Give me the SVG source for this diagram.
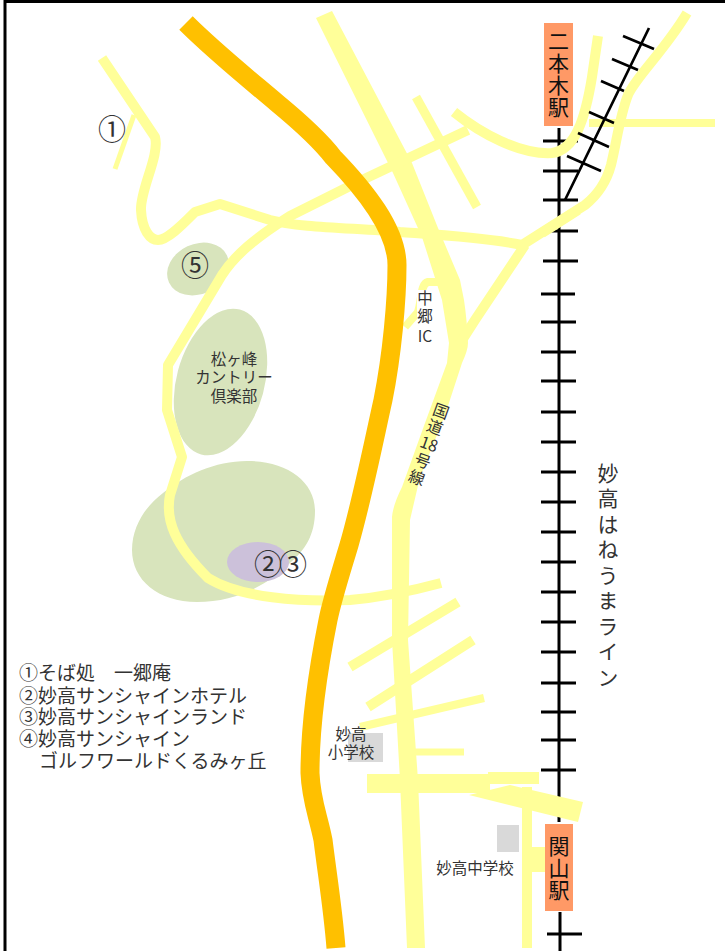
<svg xmlns="http://www.w3.org/2000/svg" width="725" height="951" viewBox="0 0 725 951">
<style>
text{font-family:"Noto Sans CJK JP","Noto Sans",sans-serif;fill:#333}
.area{fill:#D8E4BC}
.road{fill:none;stroke:#FFFF99;stroke-linejoin:round}
.fill{fill:#FFFF99}
.rail{fill:none;stroke:#000;stroke-width:3}
.sta{fill:#FF9966}
.school{fill:#D9D9D9}
.v{writing-mode:vertical-rl;text-anchor:middle}
.num{font-size:28px;text-anchor:middle}
.lg{font-size:19px}
.sm{font-size:15.5px;text-anchor:middle}
</style>
<rect width="725" height="951" fill="#fff"/>
<path d="M5 951V1.500H725" fill="none" stroke="#000" stroke-width="3"/>
<g id="areas">
<ellipse class="area" cx="198" cy="269" rx="32" ry="25" transform="rotate(-25 198 269)"/>
<ellipse class="area" cx="220.500" cy="382" rx="44" ry="75" transform="rotate(15 220.500 382)"/>
<path class="area" d="M247 461C285 461 315 480 315 511C315 535 305 550 290 563C268 585 235 602 197 602C158 602 132 580 132 550C132 525 147 505 163 493C185 475 215 461 247 461Z"/>
<ellipse class="area" style="fill:#CCC1DA" cx="258" cy="562" rx="31" ry="20"/>
</g>
<g id="connectors">
<path class="rail" d="M559 128V822M543 141H578M543 171H578M543 200H578M543 231H578M543 261H578M541 294H575M541 322H576M541 352H576M541 381H576M541 412H576M541 442H576M541 472H576M541 502H576M541 532H576M541 562H576M541 592H576M541 622H576M541 652H576M541 683H576M541 712H576M541 740H576M541 770H576M560 912V951M547 934H582"/>
<path class="fill" d="M316 18L393 173L422 237L442 300L449 343L447 363L425 423L402 487Q393 505 392 517L392 640L400 780L407 948H425L418 780L408 640L410 520L420 477L445 415L462 363Q468 350 468 343Q467 320 464 300L460 280L438 228L412 163L332 11Z"/>
<g class="road">
<path stroke-width="10" d="M102 58L155 137C160 155 140 190 141 210C142 230 150 240 158 240C168 240 185 222 195 212L220 204L270 220C300 228 360 228 400 232C440 235 490 238 522 245L585 205C600 193 607 180 611 165C617 140 620 115 628 95C635 78 665 50 687 13"/>
<path stroke-width="5" d="M134 115L115 169"/>
<path stroke-width="10" d="M468 130L360 181L290 216C255 238 235 255 222 275L168 365L167 410L182 457L170 495C165 520 175 545 208 578C240 598 300 602 350 600C385 597 415 590 441 583"/>
<path stroke-width="9" d="M416 97L477 207"/>
<path stroke-width="10" d="M454 112C480 133 520 155 552 153C575 150 585 120 592 77L598 36"/>
<path stroke-width="8" d="M589 123H715"/>
<path stroke-width="10" d="M525 245L475 320L459 345"/>
<path stroke-width="8" d="M440 282H428C420 284 422 300 418 312L405 327"/>
<path stroke-width="10" d="M350 667L458 602M368 707L473 640"/>
<path stroke-width="8" d="M360 727L484 698"/>
<path stroke-width="7" d="M415 752H464"/>
</g>
<rect x="417" y="290" width="18" height="55" fill="#fff"/>
<path class="rail" d="M565 200L649 28M623 36L654 49M612 59L638 70M601 81L624 91M589 112L614 123M578 133L609 147M567 156L601 171" style="stroke-width:2.700"/>
<path class="road" stroke-width="10" d="M542 233L578 210"/>
<rect class="fill" x="367" y="774" width="123" height="19"/>
<rect class="fill" x="488" y="772" width="51" height="12"/>
<path class="fill" d="M510 785L583 802L578 822L469 795Z"/>
<rect class="fill" x="522" y="787" width="10" height="161"/>
<rect class="fill" x="532" y="847" width="15" height="25"/>
<path fill="none" stroke="#FFC000" stroke-width="19" d="M186 23C215 52 250 80 277 103C300 122 320 140 333 157C365 190 397 230 397 265C397 300 392 355 383 400C373 445 362 500 349 545C340 575 332 600 328 620C318 670 310 720 310 773C311 800 318 815 323 840C328 880 333 910 336 948"/>
</g>
<g id="legend">
<text class="lg" x="19" y="680">①そば処　一郷庵</text>
<text class="lg" x="19" y="703">②妙高サンシャインホテル</text>
<text class="lg" x="19" y="724">③妙高サンシャインランド</text>
<text class="lg" x="19" y="746">④妙高サンシャイン</text>
<text class="lg" x="39" y="768">ゴルフワールドくるみヶ丘</text>
</g>
<g id="marker-1"><text class="num" x="112" y="140">①</text></g>
<g id="marker-5"><text class="num" x="195" y="276">⑤</text></g>
<g id="marker-23"><text class="num" x="268" y="575">②</text><text class="num" x="293" y="575">③</text></g>
<g id="matsugamine">
<text class="sm" x="234" y="365">松ヶ峰</text>
<text class="sm" x="234" y="383">カントリー</text>
<text class="sm" x="234" y="402">倶楽部</text>
</g>
<g id="nakago-ic">
<text class="sm" x="425" y="304">中</text>
<text class="sm" x="425" y="322">郷</text>
<text class="sm" x="425" y="342">IC</text>
</g>
<g id="route18" transform="translate(441 411) rotate(20)">
<text class="sm" style="font-size:16px"><tspan x="0" y="6">国</tspan><tspan x="0" y="23">道</tspan><tspan x="0" y="41">18</tspan><tspan x="0" y="59">号</tspan><tspan x="0" y="77">線</tspan></text>
</g>
<g id="station-nihongi">
<rect class="sta" x="544" y="23" width="29" height="103"/>
<text class="v" x="558.500" y="75" style="font-size:21px;letter-spacing:1px;fill:#111">二本木駅</text>
</g>
<g id="station-sekiyama">
<rect class="sta" x="545" y="824" width="28" height="87"/>
<text class="v" x="559" y="869" style="font-size:21px;letter-spacing:1px;fill:#111">関山駅</text>
</g>
<g id="line-name"><text class="v" x="608" y="577" style="font-size:21px;letter-spacing:4.500px">妙高はねうまライン</text></g>
<g id="school-elementary">
<rect class="school" x="348" y="733" width="35" height="29"/>
<text class="sm" x="351" y="740">妙高</text>
<text class="sm" x="351" y="758">小学校</text>
</g>
<g id="school-junior">
<rect class="school" x="497" y="825" width="22" height="27"/>
<text class="sm" x="475" y="874">妙高中学校</text>
</g>
</svg>
